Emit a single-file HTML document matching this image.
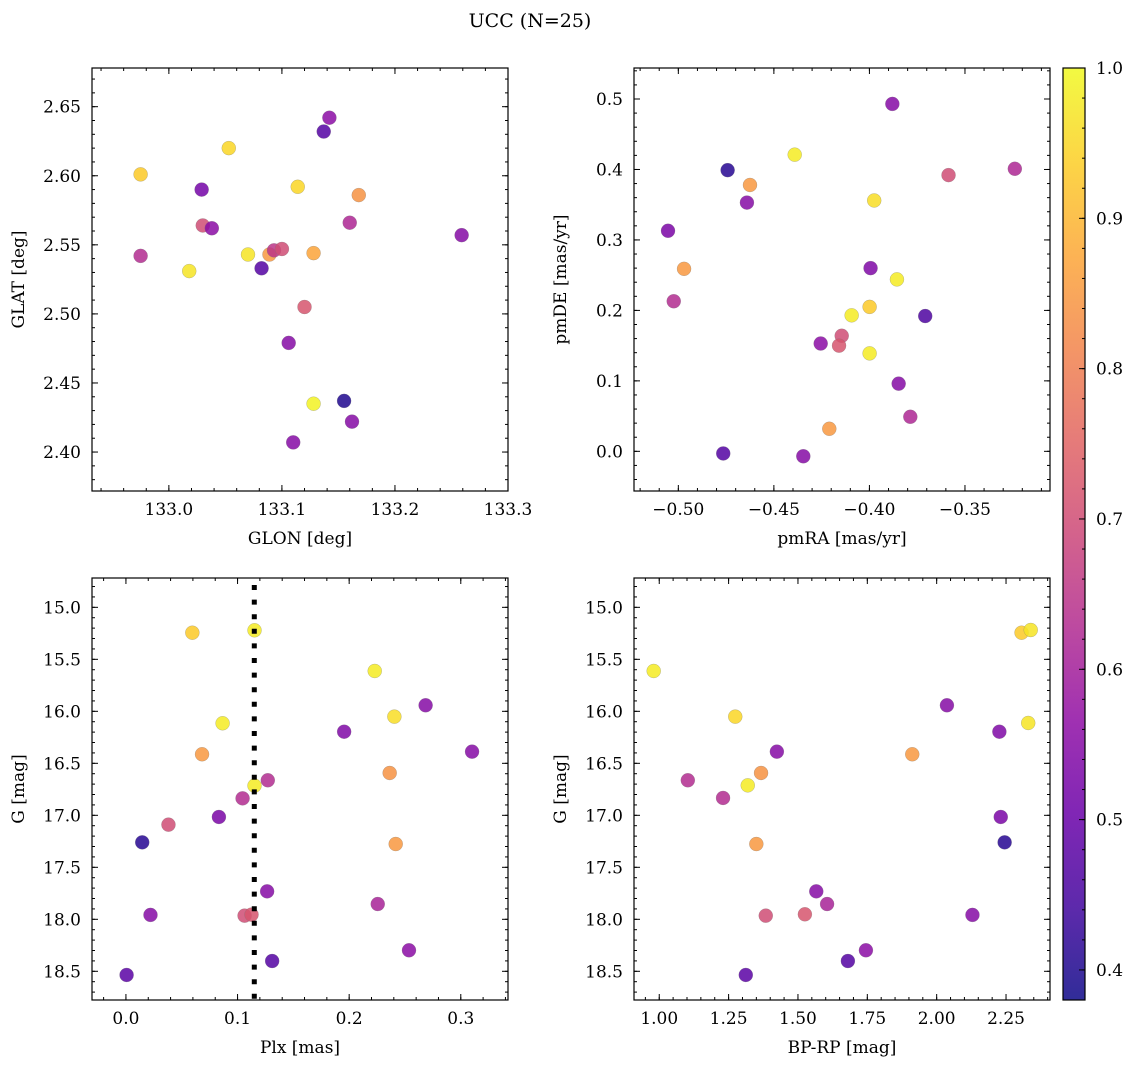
<!DOCTYPE html>
<html><head><meta charset="utf-8">
<style>
html,body{margin:0;padding:0;background:#fff;}
svg{display:block;font-family:"DejaVu Serif","Liberation Serif",serif;}
</style></head>
<body>
<svg id="fig" width="1136" height="1068" viewBox="0 0 1136 1068" xmlns="http://www.w3.org/2000/svg">
<defs>
<linearGradient id="plasma" x1="0" y1="1" x2="0" y2="0">
<stop offset="0" stop-color="#0d0887"/><stop offset="0.1" stop-color="#41049d"/>
<stop offset="0.2" stop-color="#6a00a8"/><stop offset="0.3" stop-color="#8f0da4"/>
<stop offset="0.4" stop-color="#b12a90"/><stop offset="0.5" stop-color="#cc4778"/>
<stop offset="0.6" stop-color="#e16462"/><stop offset="0.7" stop-color="#f2844b"/>
<stop offset="0.8" stop-color="#fca636"/><stop offset="0.9" stop-color="#fcce25"/>
<stop offset="1" stop-color="#f0f921"/>
</linearGradient>
</defs>
<text x="530" y="27" font-size="19" text-anchor="middle">UCC (N=25)</text>
</svg>
<script>
// Panel 1: GLON vs GLAT
const p1Glon=[132.975,133.053,133.029,133.114,133.142,133.137,133.168,133.030,133.038,133.160,133.259,132.975,133.070,133.089,133.093,133.100,133.128,133.018,133.082,133.120,133.106,133.128,133.155,133.162,133.110];
const p1Glat=[2.601,2.620,2.590,2.592,2.642,2.632,2.586,2.564,2.562,2.566,2.557,2.542,2.543,2.543,2.546,2.547,2.544,2.531,2.533,2.505,2.479,2.435,2.437,2.422,2.407];
const p1Prob=[0.93,0.95,0.52,0.95,0.56,0.47,0.84,0.70,0.56,0.62,0.55,0.63,0.97,0.85,0.65,0.70,0.87,0.97,0.47,0.72,0.55,0.99,0.40,0.55,0.55];
// Panel 2: pmRA vs pmDE
const p2PmRA=[-0.388,-0.4391,-0.4742,-0.4625,-0.4641,-0.3586,-0.3239,-0.3975,-0.5054,-0.4970,-0.5024,-0.3994,-0.3856,-0.3999,-0.4093,-0.3708,-0.4145,-0.4159,-0.4255,-0.3999,-0.3847,-0.3786,-0.4210,-0.4765,-0.4346];
const p2PmDE=[0.493,0.421,0.399,0.378,0.353,0.392,0.401,0.356,0.313,0.259,0.213,0.260,0.244,0.205,0.193,0.192,0.164,0.150,0.153,0.139,0.096,0.049,0.032,-0.003,-0.007];
const p2Prob=[0.55,0.98,0.41,0.85,0.55,0.70,0.62,0.96,0.53,0.85,0.63,0.54,0.98,0.93,0.98,0.46,0.70,0.72,0.56,0.98,0.55,0.62,0.85,0.47,0.55];
// Panel 3: Plx vs G
const p3Plx=[0.0595,0.1152,0.2229,0.2685,0.2405,0.0866,0.1955,0.3101,0.0682,0.2363,0.1271,0.1152,0.1045,0.0833,0.0381,0.0146,0.2417,0.1265,0.2256,0.0220,0.1063,0.1125,0.2536,0.1310,0.0006];
const p3G=[15.244,15.221,15.612,15.942,16.051,16.115,16.196,16.388,16.413,16.593,16.663,16.715,16.837,17.016,17.090,17.260,17.276,17.731,17.853,17.958,17.965,17.955,18.298,18.401,18.535];
const p3Prob=[0.93,0.98,0.98,0.55,0.96,0.98,0.54,0.55,0.85,0.84,0.63,0.98,0.63,0.53,0.70,0.41,0.85,0.55,0.61,0.55,0.70,0.72,0.56,0.47,0.48];
const plxLine=[0.115];
// Panel 4: BP-RP vs G
const p4BpRp=[0.980,2.306,2.339,1.274,2.037,2.330,2.226,1.424,1.912,1.367,1.103,1.319,1.230,2.231,2.245,1.350,1.566,1.605,1.384,1.525,2.129,1.745,1.680,1.312];
const p4G=[15.612,15.244,15.218,16.051,15.942,16.112,16.196,16.388,16.413,16.593,16.663,16.712,16.833,17.016,17.260,17.276,17.731,17.853,17.965,17.952,17.958,18.298,18.401,18.535];
const p4Prob=[0.98,0.93,0.97,0.95,0.55,0.97,0.54,0.55,0.85,0.84,0.63,0.98,0.63,0.53,0.41,0.85,0.55,0.61,0.70,0.72,0.55,0.56,0.47,0.48];
// tick labels
const p1XTicks=["133.0","133.1","133.2","133.3"];
const p1YTicks=["2.40","2.45","2.50","2.55","2.60","2.65"];
const p2XTicks=["\u22120.50","\u22120.45","\u22120.40","\u22120.35"];
const p2YTicks=["0.0","0.1","0.2","0.3","0.4","0.5"];
const p3XTicks=["0.0","0.1","0.2","0.3"];
const gTicks=["15.0","15.5","16.0","16.5","17.0","17.5","18.0","18.5"];
const p4XTicks=["1.00","1.25","1.50","1.75","2.00","2.25"];
const cbTicks=["0.4","0.5","0.6","0.7","0.8","0.9","1.0"];
const cMin=0.38,cMax=1.0;

const NS="http://www.w3.org/2000/svg";
const svg=document.getElementById('fig');
const FS=17;
function mk(tag,attrs,parent){const e=document.createElementNS(NS,tag);for(const k in attrs)e.setAttribute(k,attrs[k]);(parent||svg).appendChild(e);return e;}
const stops=[[13,8,135],[65,4,157],[106,0,168],[143,13,164],[177,42,144],[204,71,120],[225,100,98],[242,132,75],[252,166,54],[252,206,37],[240,249,33]];
function plasma(v){let t=(v-cMin)/(cMax-cMin);t=Math.max(0,Math.min(1,t))*10;const i=Math.min(9,Math.floor(t)),f=t-i;const a=stops[i],b=stops[i+1];return 'rgb('+a.map((x,k)=>Math.round(x+(b[k]-x)*f)).join(',')+')';}

function panel(o){
  const g=mk('g',{});
  
  
  const sx=v=>o.L+(v-o.x0)/(o.x1-o.x0)*(o.R-o.L);
  const sy=o.invert?(v=>o.T+(v-o.y0)/(o.y1-o.y0)*(o.B-o.T)):(v=>o.B-(v-o.y0)/(o.y1-o.y0)*(o.B-o.T));
  const tg=mk('g',{stroke:'#000','stroke-width':1},g);
  const eps=1e-9;
  for(let v=Math.ceil(o.x0/o.xmin-eps)*o.xmin;v<=o.x1+eps;v+=o.xmin){const x=sx(v);mk('line',{x1:x,x2:x,y1:o.B,y2:o.B-3},tg);mk('line',{x1:x,x2:x,y1:o.T,y2:o.T+3},tg);}
  for(let v=Math.ceil(Math.min(o.y0,o.y1)/o.ymin-eps)*o.ymin;v<=Math.max(o.y0,o.y1)+eps;v+=o.ymin){const y=sy(v);mk('line',{y1:y,y2:y,x1:o.L,x2:o.L+3},tg);mk('line',{y1:y,y2:y,x1:o.R,x2:o.R-3},tg);}
  o.xt.forEach((lab,i)=>{const v=o.xs+i*o.xstep;const x=sx(v);
    mk('line',{x1:x,x2:x,y1:o.B,y2:o.B-6},tg);mk('line',{x1:x,x2:x,y1:o.T,y2:o.T+6},tg);
    const t=mk('text',{x:x,y:o.B+24,'font-size':FS,'text-anchor':'middle'},g);t.textContent=lab;
    
    });
  o.yt.forEach((lab,i)=>{const v=o.ys+i*o.ystep;const y=sy(v);
    mk('line',{y1:y,y2:y,x1:o.L,x2:o.L+6},tg);mk('line',{y1:y,y2:y,x1:o.R,x2:o.R-6},tg);
    const t=mk('text',{x:o.L-11,y:y+6,'font-size':FS,'text-anchor':'end'},g);t.textContent=lab;
    
    });
  const pg=mk('g',{},g);
  
  
  o.xd.forEach((xv,i)=>{const c=mk('circle',{cx:sx(xv),cy:sy(o.yd[i]),r:7,fill:plasma(o.cd[i]),'fill-opacity':0.85,stroke:'#777','stroke-width':0.4,'stroke-opacity':0.6},pg);
    
    });
  if(o.vline){o.vline.forEach(v=>{const l=mk('line',{x1:sx(v),x2:sx(v),y1:o.T,y2:o.B,stroke:'#000','stroke-width':5,'stroke-dasharray':'5 9.6','stroke-dashoffset':'-7'},g);
    
    });}
  const fr=mk('rect',{x:o.L,y:o.T,width:o.R-o.L,height:o.B-o.T,fill:'none',stroke:'#000','stroke-width':1.2},g);
  
  
  const xl=mk('text',{x:(o.L+o.R)/2,y:o.B+53,'font-size':FS,'text-anchor':'middle'},g);xl.textContent=o.xlab;
  
  
  const cy=(o.T+o.B)/2;
  const yl=mk('text',{x:o.L-68,y:cy,'font-size':FS,'text-anchor':'middle',transform:'rotate(-90 '+(o.L-68)+' '+cy+')'},g);yl.textContent=o.ylab;
  
  
}

panel({name:'glon-glat-panel',L:92,R:508,T:68,B:491,x0:132.932,x1:133.3,y0:2.3718,y1:2.678,xmin:0.02,ymin:0.01,xt:p1XTicks,xs:133.0,xstep:0.1,yt:p1YTicks,ys:2.40,ystep:0.05,xd:p1Glon,yd:p1Glat,cd:p1Prob,xlab:'GLON [deg]',ylab:'GLAT [deg]'});
panel({name:'pm-panel',L:634,R:1050,T:68,B:491,x0:-0.5232,x1:-0.3055,y0:-0.0563,y1:0.544,xmin:0.01,ymin:0.02,xt:p2XTicks,xs:-0.50,xstep:0.05,yt:p2YTicks,ys:0,ystep:0.1,xd:p2PmRA,yd:p2PmDE,cd:p2Prob,xlab:'pmRA [mas/yr]',ylab:'pmDE [mas/yr]'});
panel({name:'plx-g-panel',L:92,R:508,T:578,B:1000,x0:-0.0304,x1:0.3423,y0:14.718,y1:18.776,invert:true,xmin:0.02,ymin:0.1,xt:p3XTicks,xs:0,xstep:0.1,yt:gTicks,ys:15.0,ystep:0.5,xd:p3Plx,yd:p3G,cd:p3Prob,vline:plxLine,xlab:'Plx [mas]',ylab:'G [mag]'});
panel({name:'cmd-panel',L:634,R:1050,T:578,B:1000,x0:0.909,x1:2.4085,y0:14.718,y1:18.776,invert:true,xmin:0.05,ymin:0.1,xt:p4XTicks,xs:1.0,xstep:0.25,yt:gTicks,ys:15.0,ystep:0.5,xd:p4BpRp,yd:p4G,cd:p4Prob,xlab:'BP-RP [mag]',ylab:'G [mag]'});

const cb=mk('g',{});


const cT=68,cB=1000,cL=1063,cR=1085;
const cy=v=>cB-(v-cMin)/(cMax-cMin)*(cB-cT);
mk('rect',{x:cL,y:cT,width:cR-cL,height:cB-cT,fill:'url(#plasma)','fill-opacity':0.85},cb);
for(let v=0.38;v<=1.0001;v+=0.02){const y=cy(v);mk('line',{x1:cR,x2:cR-3,y1:y,y2:y,stroke:'#000'},cb);}
cbTicks.forEach(lab=>{const y=cy(parseFloat(lab));mk('line',{x1:cR,x2:cR-6,y1:y,y2:y,stroke:'#000'},cb);
  const t=mk('text',{x:cR+11,y:y+6,'font-size':FS},cb);t.textContent=lab;
  
  });
mk('rect',{x:cL,y:cT,width:cR-cL,height:cB-cT,fill:'none',stroke:'#000','stroke-width':1.2},cb);
</script>
</body></html>
